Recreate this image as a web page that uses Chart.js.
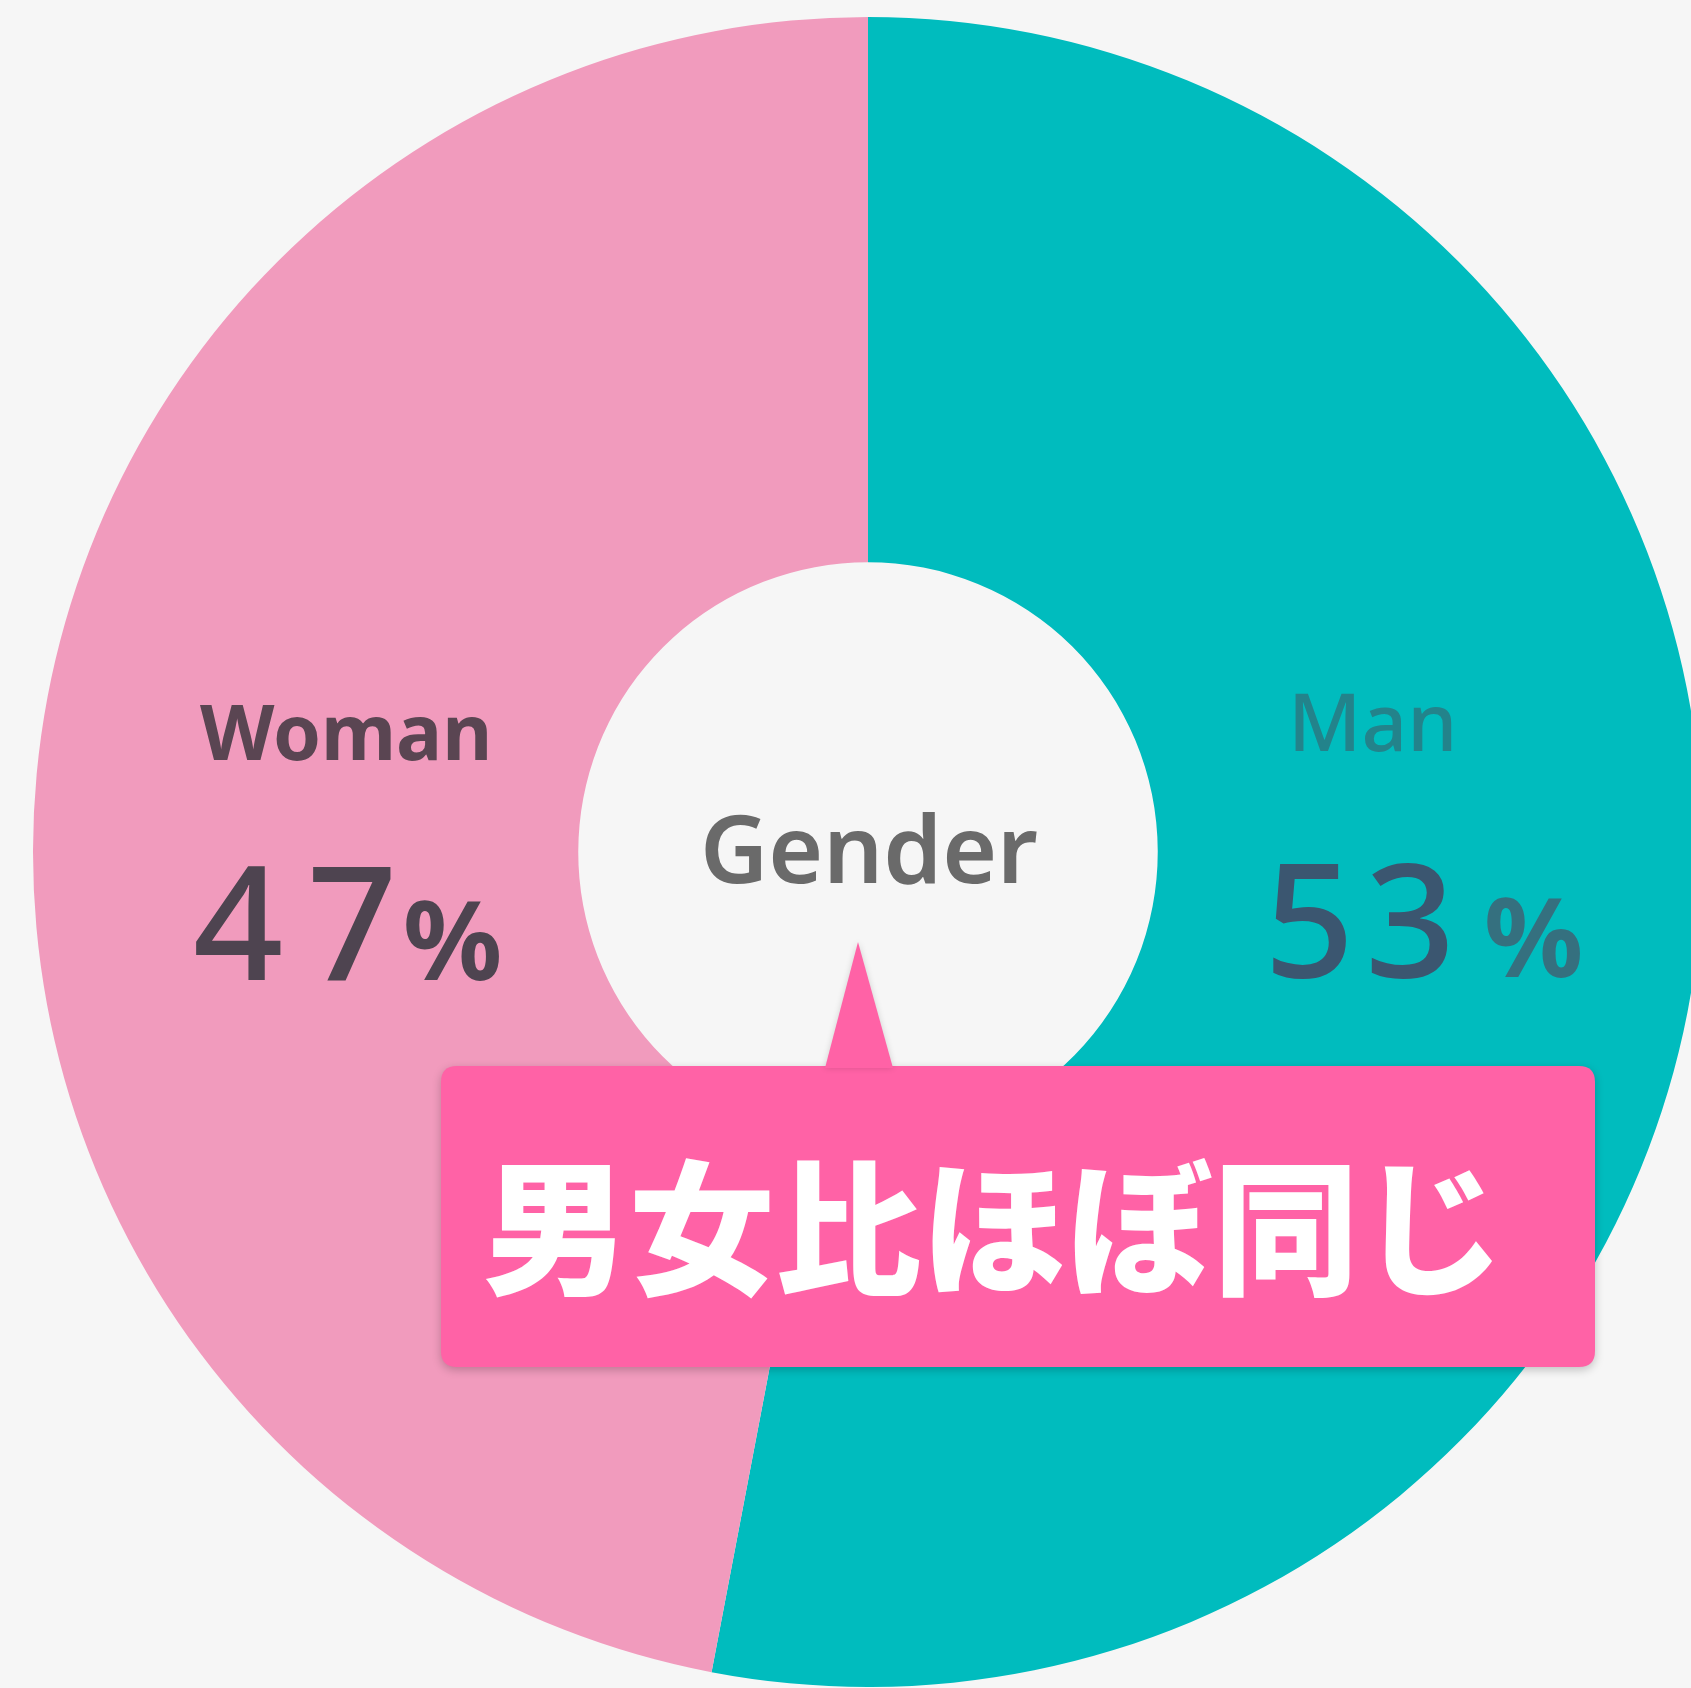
<!DOCTYPE html>
<html>
<head>
<meta charset="utf-8">
<script src="https://cdn.jsdelivr.net/npm/chart.js@4"></script>
<style>
	html, body { margin: 0; padding: 0; background: #f6f6f6; overflow: hidden; }
	#wrap { position: absolute; left: 0; top: 0; width: 1720px; height: 1688px; }
</style>
</head>
<body>
<div id="wrap"><canvas id="gender-chart"></canvas></div>
<script>
	// data
	var genderLabels = ['Man', 'Woman'];
	var genderValues = [53, 47];
	var sliceColors = ['#00bcbe', '#f19bbd'];
	var labelColors = ['#23838b', '#5a4552'];
	var valueColors = ['#3b5670', '#4e4450'];
	var pctColors = ['#35707f', '#4e4450'];
	var centerTitle = 'Gender';
	var calloutText = '男女比ほぼ同じ';

	/**
	 * Round rect helper
	 */
	function roundRect(ctx, x, y, w, h, r) {
		ctx.beginPath();
		ctx.moveTo(x + r, y);
		ctx.lineTo(x + w - r, y);
		ctx.quadraticCurveTo(x + w, y, x + w, y + r);
		ctx.lineTo(x + w, y + h - r);
		ctx.quadraticCurveTo(x + w, y + h, x + w - r, y + h);
		ctx.lineTo(x + r, y + h);
		ctx.quadraticCurveTo(x, y + h, x, y + h - r);
		ctx.lineTo(x, y + r);
		ctx.quadraticCurveTo(x, y, x + r, y);
		ctx.closePath();
	}

	/**
	 * Draws slice labels, centre title and the pink callout
	 */
	var overlayPlugin = {
		id: 'overlay',
		afterDatasetsDraw: function (chart) {
			var ctx = chart.ctx;
			var arc = chart.getDatasetMeta(0).data[0];
			var cx = arc.x, cy = arc.y;
			var k = arc.outerRadius / 835;
			var total = genderValues.reduce(function (a, b) { return a + b; }, 0);

			// label anchors (offset from centre, left edge / baseline)
			var spots = [
				{ nameX: 420, nameY: -101, nameSize: 80, nameWeight: '500', digitX: [396, 497], pctX: 616, numY: 125 },
				{ nameX: -668, nameY: -92, nameSize: 77, nameWeight: 'bold', digitX: [-675, -561], pctX: -465, numY: 128 }
			];

			ctx.save();
			ctx.textBaseline = 'alphabetic';
			ctx.textAlign = 'left';
			genderLabels.forEach(function (label, i) {
				var s = spots[i];
				ctx.fillStyle = labelColors[i];
				ctx.font = s.nameWeight + ' ' + Math.round(s.nameSize * k) + 'px "Noto Sans"';
				ctx.fillText(label, cx + s.nameX * k, cy + s.nameY * k);

				var pct = String(Math.round(genderValues[i] / total * 100));
				ctx.fillStyle = valueColors[i];
				ctx.font = '500 ' + Math.round(158 * k) + 'px "Noto Sans"';
				pct.split('').forEach(function (ch, j) {
					ctx.fillText(ch, cx + s.digitX[j] * k, cy + s.numY * k);
				});
				ctx.fillStyle = pctColors[i];
				ctx.font = 'bold ' + Math.round(110 * k) + 'px "Noto Sans"';
				ctx.fillText('%', cx + s.pctX * k, cy + s.numY * k);
			});

			// centre title
			ctx.textAlign = 'center';
			ctx.fillStyle = '#6a6a6a';
			ctx.font = '600 ' + Math.round(94 * k) + 'px "Noto Sans"';
			ctx.fillText(centerTitle, cx + 1 * k, cy + 31 * k);

			// callout box
			var bx = cx - 427 * k, by = cy + 214 * k, bw = 1154 * k, bh = 301 * k;
			ctx.shadowColor = 'rgba(0, 0, 0, 0.22)';
			ctx.shadowBlur = 10;
			ctx.shadowOffsetY = 3;
			ctx.fillStyle = '#ff62a6';
			roundRect(ctx, bx, by, bw, bh, 16 * k);
			ctx.fill();
			ctx.shadowColor = 'rgba(0, 0, 0, 0.15)';
			ctx.shadowBlur = 6;
			ctx.shadowOffsetY = 0;
			ctx.beginPath();
			ctx.moveTo(cx - 10 * k, cy + 90 * k);
			ctx.lineTo(cx + 25 * k, by + 2);
			ctx.lineTo(cx - 43 * k, by + 2);
			ctx.closePath();
			ctx.fill();
			ctx.shadowColor = 'transparent';

			ctx.fillStyle = '#ffffff';
			ctx.textAlign = 'left';
			ctx.textBaseline = 'middle';
			ctx.font = '900 ' + Math.round(146 * k) + 'px "Noto Sans CJK JP"';
			ctx.fillText(calloutText, bx + 42 * k, by + 162 * k);
			ctx.restore();
		}
	};

	new Chart(document.getElementById('gender-chart'), {
		type: 'doughnut',
		data: {
			labels: genderLabels,
			datasets: [
				{
					data: genderValues,
					backgroundColor: sliceColors,
					borderWidth: 0
				}
			]
		},
		options: {
			responsive: true,
			maintainAspectRatio: false,
			animation: false,
			cutout: '34.7%',
			layout: {
				padding: { top: 17, bottom: 1, left: 33, right: 17 }
			},
			plugins: {
				legend: { display: false },
				tooltip: { enabled: false }
			}
		},
		plugins: [overlayPlugin]
	});
</script>
</body>
</html>
